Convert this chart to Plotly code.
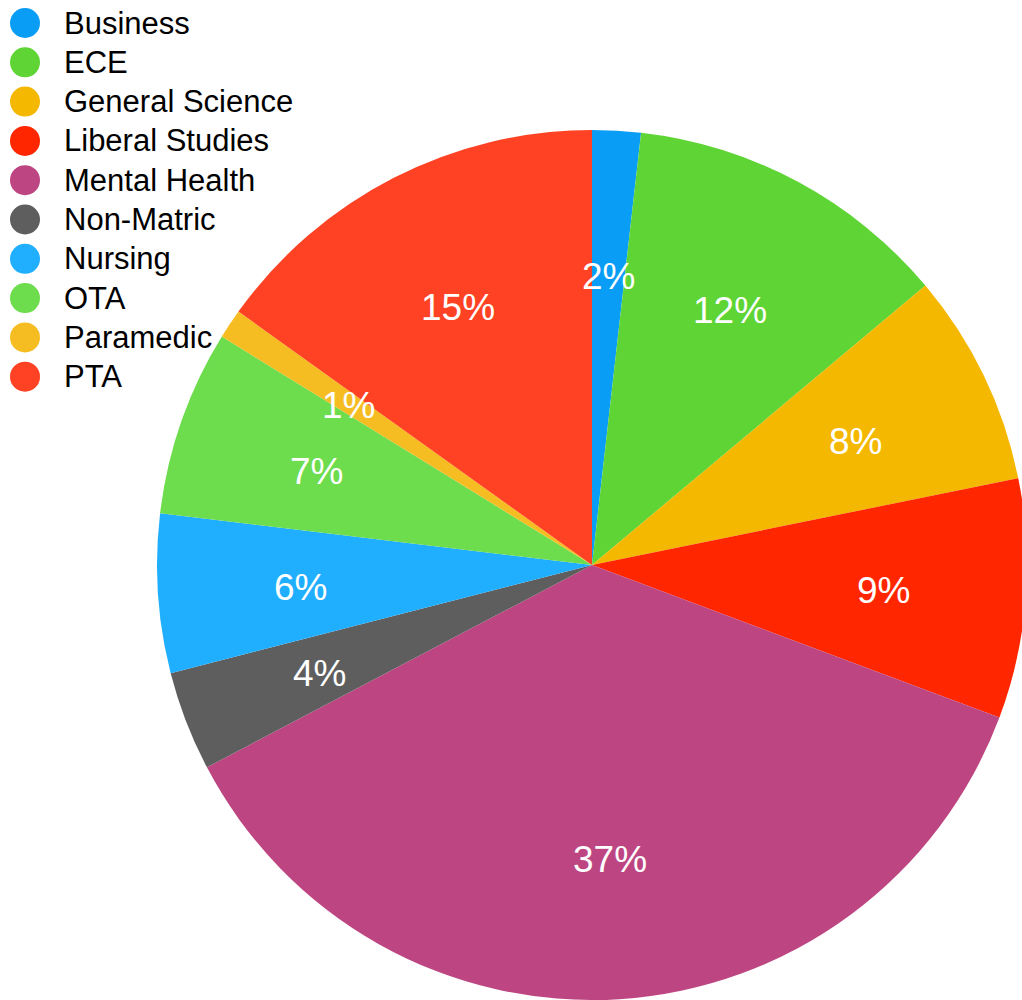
import numpy as np
import plotly.graph_objects as go

categories = ["Business", "ECE", "General Science", "Liberal Studies", "Mental Health",
              "Non-Matric", "Nursing", "OTA", "Paramedic", "PTA"]
shares = [1.8, 12.1, 7.9, 8.9, 36.6, 3.7, 5.9, 6.9, 1.1, 15.1]
colors = ["#0a9df5", "#5ed435", "#f5b800", "#ff2600", "#bd4682",
          "#5e5e5e", "#20aefe", "#6ddc4d", "#f6bd23", "#ff4223"]

W, H = 1030, 1000
CX, CY, R = 592, 565, 435

fig = go.Figure(go.Pie(
    labels=categories, values=shares, sort=False, direction="clockwise", rotation=0,
    marker=dict(colors=colors, line=dict(width=0)), textinfo="none", hoverinfo="label+percent",
    showlegend=False,
    domain=dict(x=[(CX - R) / W, (CX + R) / W], y=[1 - (CY + R) / H, 1 - (CY - R) / H]),
))

vals = np.array(shares, dtype=float)
frac = vals / vals.sum()
mid = (np.cumsum(frac) - frac / 2) * 2 * np.pi
annotations = []
for f, a in zip(frac, mid):
    px = CX + 0.672 * R * np.sin(a)
    py = CY - 0.672 * R * np.cos(a) + 3
    annotations.append(dict(x=px / W, y=1 - py / H, xref="paper", yref="paper",
                            xanchor="center", yanchor="middle",
                            text=f"{round(f * 100)}%", showarrow=False,
                            font=dict(family="Liberation Sans, Arial", size=37, color="white")))

shapes = []
for i, (name, c) in enumerate(zip(categories, colors)):
    yc = 23 + i * 39.3
    shapes.append(dict(type="circle", xref="paper", yref="paper",
                       x0=10 / W, x1=40 / W, y0=1 - (yc + 15) / H, y1=1 - (yc - 15) / H,
                       fillcolor=c, line=dict(width=0)))
    annotations.append(dict(x=62 / W, y=1 - yc / H, xref="paper", yref="paper",
                            xanchor="left", yanchor="middle", text=name, showarrow=False,
                            font=dict(family="Liberation Sans, Arial", size=31, color="black")))

fig.update_layout(width=W, height=H, margin=dict(l=0, r=0, t=0, b=0),
                  paper_bgcolor="white", plot_bgcolor="white",
                  annotations=annotations, shapes=shapes)

fig.write_html("out.html", config={"displayModeBar": False},
               post_script="document.body.style.margin='0';document.body.style.overflow='hidden';")
